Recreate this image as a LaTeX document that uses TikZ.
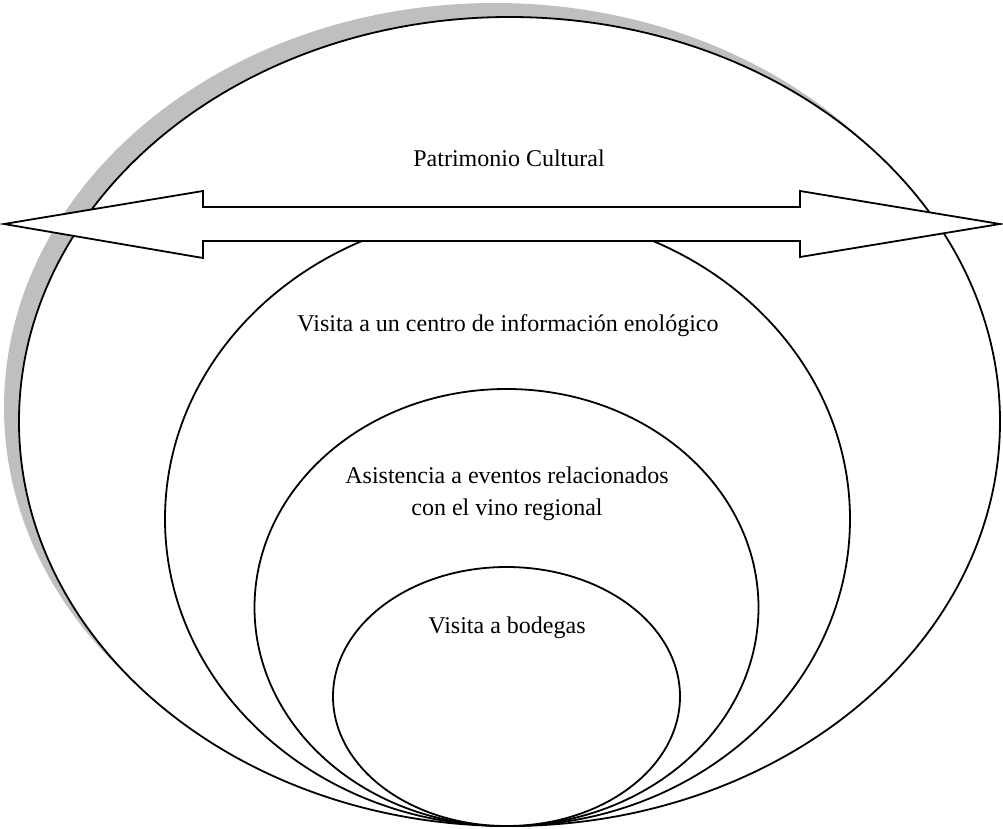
\documentclass[tikz,border=0pt]{standalone}
\usepackage{fontspec}
\setmainfont{Liberation Serif}
\usetikzlibrary{positioning}

\tikzset{
	ring/.style={draw=black, fill=white},
	ringtext/.style={font=\fontsize{12}{16}\selectfont, align=center, inner sep=0pt},
}

\begin{document}
\begin{tikzpicture}[x=0.5pt,y=-0.5pt,line width=0.9pt]
	\useasboundingbox (0,0) rectangle (1003,829);

	%Shadow
	\fill[black!25] (494.5,407.5) ellipse [x radius=490.5, y radius=404.5];

	%Rings
	%Patrimonio
	\draw[ring] (509.5,421.5) ellipse [x radius=490.5, y radius=404.5];
	%Centro
	\draw[ring] (507.5,519) ellipse [x radius=342.5, y radius=307];
	%Eventos
	\draw[ring] (506.5,607.5) ellipse [x radius=252, y radius=218.5];
	%Bodegas
	\draw[ring] (506.5,696.5) ellipse [x radius=173.5, y radius=129.5];

	%Arrow
	\draw[fill=white] (4,224) -- (203,191) -- (203,207) -- (800,207) -- (800,191)
		-- (1000,224) -- (800,257) -- (800,241) -- (203,241) -- (203,258) -- cycle;

	%Labels
	\node[ringtext, anchor=base] (patrimonio) at (509,167) {Patrimonio Cultural};
	\node[ringtext, anchor=base] (centro) at (508,332) {Visita a un centro de información enológico};
	\node[ringtext, anchor=base] (eventos) at (507,515) {Asistencia a eventos relacionados\\con el vino regional};
	\node[ringtext, anchor=base] (bodegas) at (507,633) {Visita a bodegas};

\end{tikzpicture}
\end{document}
